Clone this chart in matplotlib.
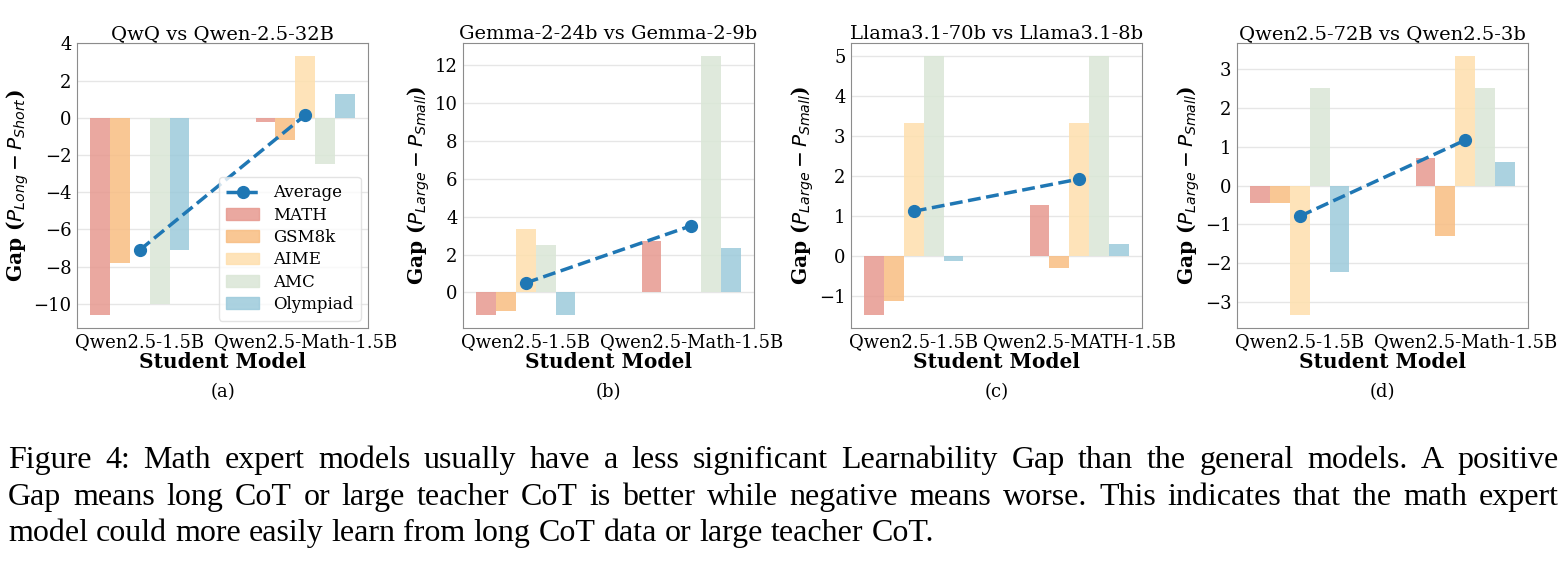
import numpy as np
import matplotlib
matplotlib.use("Agg")
import matplotlib.pyplot as plt
from matplotlib.lines import Line2D
from matplotlib.patches import Patch
from matplotlib.ticker import MultipleLocator

# Data
students_a = ["Qwen2.5-1.5B", "Qwen2.5-Math-1.5B"]
students_b = ["Qwen2.5-1.5B", "Qwen2.5-Math-1.5B"]
students_c = ["Qwen2.5-1.5B", "Qwen2.5-MATH-1.5B"]
students_d = ["Qwen2.5-1.5B", "Qwen2.5-Math-1.5B"]

benchmarks = ["MATH", "GSM8k", "AIME", "AMC", "Olympiad"]

# rows: student model, columns: benchmarks
gap_a = [[-10.6, -7.8, 0.0, -10.0, -7.1],
         [-0.2, -1.2, 3.33, -2.5, 1.3]]
gap_b = [[-1.2, -1.0, 3.37, 2.53, -1.2],
         [2.73, 0.0, 0.0, 12.5, 2.37]]
gap_c = [[-1.48, -1.13, 3.33, 5.0, -0.14],
         [1.28, -0.3, 3.33, 5.0, 0.3]]
gap_d = [[-0.45, -0.45, -3.33, 2.5, -2.22],
         [0.7, -1.3, 3.33, 2.5, 0.6]]

y_steps = [2, 2, 1, 1]

titles = ["QwQ vs Qwen-2.5-32B", "Gemma-2-24b vs Gemma-2-9b",
          "Llama3.1-70b vs Llama3.1-8b", "Qwen2.5-72B vs Qwen2.5-3b"]
ylabels = [r"Gap ($P_{Long} - P_{Short}$)", r"Gap ($P_{Large} - P_{Small}$)",
           r"Gap ($P_{Large} - P_{Small}$)", r"Gap ($P_{Large} - P_{Small}$)"]
sublabels = ["(a)", "(b)", "(c)", "(d)"]

caption_lines = [
    "Figure 4: Math expert models usually have a less significant Learnability Gap than the general models. A positive",
    "Gap means long CoT or large teacher CoT is better while negative means worse. This indicates that the math expert",
    "model could more easily learn from long CoT data or large teacher CoT.",
]

colors = ["#e7998f", "#f8bd82", "#fedfad", "#dae6d6", "#9ccadb"]
avg_color = "#1f77b4"

plt.rcParams["font.family"] = "DejaVu Serif"
W, H = 1568, 561
fig = plt.figure(figsize=(W / 100, H / 100), dpi=100)

lefts = [77, 463, 851, 1237]
ax_w, ax_top, ax_bot = 291, 43, 328
bar_w = 0.12

panels = [(students_a, gap_a), (students_b, gap_b), (students_c, gap_c), (students_d, gap_d)]

for i, (students, gap) in enumerate(panels):
    ax = fig.add_axes([lefts[i] / W, 1 - ax_bot / H, ax_w / W, (ax_bot - ax_top) / H])
    gap = np.array(gap)
    x = np.arange(len(students))
    for j, name in enumerate(benchmarks):
        ax.bar(x + (j - 2) * bar_w, gap[:, j], bar_w, color=colors[j], alpha=0.85,
               label=name, zorder=2)
    ax.plot(x, gap.mean(axis=1), "--o", color=avg_color, lw=2.5, ms=8.5,
            label="Average", zorder=3)
    ax.set_xticks(x)
    ax.set_xticklabels(students, fontsize=13)
    ax.yaxis.set_major_locator(MultipleLocator(y_steps[i]))
    ax.tick_params(axis="both", length=0, labelsize=13, pad=4)
    ax.grid(axis="y", color="#e6e6e6", lw=1, zorder=0)
    ax.set_axisbelow(True)
    for s in ax.spines.values():
        s.set_color("#8c8c8c")
    ax.set_title(titles[i], fontsize=14, pad=3)
    ax.set_xlabel("Student Model", fontsize=14.5, fontweight="bold", labelpad=0)
    ax.set_ylabel(ylabels[i], fontsize=14.5, fontweight="bold", labelpad=2)
    ax.text(0.5, -0.195, sublabels[i], transform=ax.transAxes, ha="center",
            va="top", fontsize=13)
    if i == 0:
        handles = [Line2D([], [], ls="--", marker="o", color=avg_color, lw=2.5, ms=8.5)]
        handles += [Patch(color=c, alpha=0.85) for c in colors]
        ax.legend(handles, ["Average"] + benchmarks, loc="lower right", fontsize=12,
                  framealpha=0.8, edgecolor="#dddddd", handlelength=2.0,
                  borderpad=0.45, labelspacing=0.32, borderaxespad=0.45)

# justified caption
fig.canvas.draw()
renderer = fig.canvas.get_renderer()
x0, x1 = 8, 1559
baselines = [468, 505, 541]
cap_font = dict(family="Liberation Serif", size=23)
for k, line in enumerate(caption_lines):
    words = line.split(" ")
    texts = [fig.text(0, 0, w, ha="left", va="baseline", **cap_font) for w in words]
    widths = [t.get_window_extent(renderer).width for t in texts]
    if k < len(caption_lines) - 1:
        gap_px = (x1 - x0 - sum(widths)) / (len(words) - 1)
    else:
        sp = fig.text(0, 0, "a a", **cap_font)
        sa = fig.text(0, 0, "aa", **cap_font)
        gap_px = sp.get_window_extent(renderer).width - sa.get_window_extent(renderer).width
        sp.remove()
        sa.remove()
    pos = x0
    for t, wd in zip(texts, widths):
        t.set_position((pos / W, 1 - baselines[k] / H))
        pos += wd + gap_px

fig.savefig("out.png", dpi=100)
